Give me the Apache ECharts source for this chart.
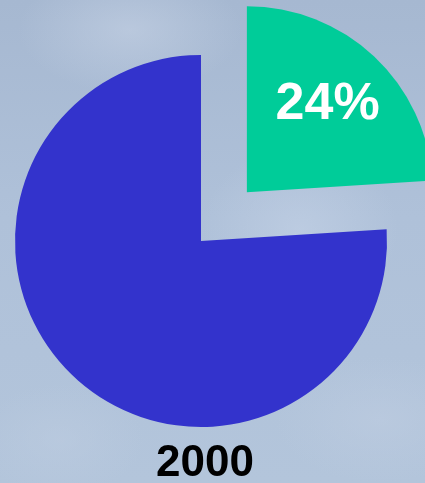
<!DOCTYPE html>
<html>
<head>
<meta charset="utf-8">
<script src="https://cdn.jsdelivr.net/npm/echarts@6/dist/echarts.min.js"></script>
<style>
  html, body { margin: 0; padding: 0; }
  body {
    width: 425px; height: 483px; overflow: hidden;
    background:
      radial-gradient(ellipse 160px 90px at 130px 30px, rgba(200,212,230,0.55), rgba(200,212,230,0) 70%),
      radial-gradient(ellipse 140px 120px at 300px 230px, rgba(196,210,230,0.6), rgba(196,210,230,0) 70%),
      radial-gradient(ellipse 120px 80px at 60px 440px, rgba(190,205,225,0.5), rgba(190,205,225,0) 70%),
      radial-gradient(ellipse 150px 90px at 380px 420px, rgba(192,206,226,0.5), rgba(192,206,226,0) 70%),
      linear-gradient(180deg, #a6b8d1 0%, #afc1d9 45%, #b3c5db 100%);
  }
  #chart { width: 425px; height: 483px; }
</style>
</head>
<body>
<div id="chart"></div>
<script>
  const year = '2000';
  const names = ['A', 'B'];
  const values = [24, 76];
  const colors = ['#00cc99', '#3333cc'];

  const chart = echarts.init(document.getElementById('chart'));
  const option = {
    backgroundColor: 'transparent',
    title: {
      text: year,
      left: 156,
      top: 442,
      padding: 0,
      textStyle: {
        fontFamily: 'Liberation Sans, Arial, sans-serif',
        fontSize: 44,
        fontWeight: 'bold',
        color: '#000'
      }
    },
    series: [
      {
        type: 'pie',
        center: [201, 241],
        radius: 186,
        startAngle: 90,
        clockwise: true,
        selectedMode: 'single',
        selectedOffset: 67,
        animation: false,
        silent: true,
        label: {
          show: true,
          position: 'inside',
          formatter: (p) => p.dataIndex === 0 ? p.value + '%' : '',
          color: '#fff',
          fontFamily: 'Liberation Sans, Arial, sans-serif',
          fontSize: 52,
          fontWeight: 'bold',
          padding: [0, 0, 0, 30]
        },
        labelLayout: { dy: -18 },
        labelLine: { show: false },
        data: values.map((v, i) => ({
          name: names[i],
          value: v,
          selected: i === 0,
          itemStyle: { color: colors[i] }
        }))
      }
    ]
  };
  chart.setOption(option);
</script>
</body>
</html>
